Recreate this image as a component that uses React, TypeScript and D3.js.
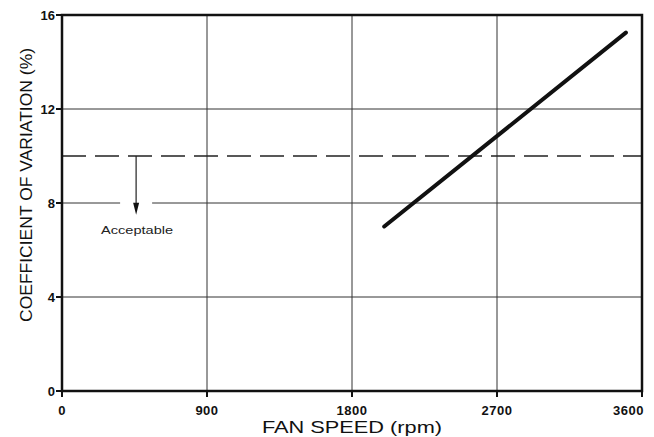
import React from "react";
import * as d3 from "d3";

const xTicks = [0, 900, 1800, 2700, 3600];
const yTicks = [0, 4, 8, 12, 16];
const lineSpeed = [2000, 3500];
const lineCov = [7, 15.25];
const limitCov = 10;
const arrowSpeed = 460;
const arrowEndCov = 7.5;
const arrowLabel = "Acceptable";

export default function App() {
  const W = 654, H = 437;
  const m = { l: 62, r: 12, t: 15, b: 46 };
  const x = d3.scaleLinear().domain([0, 3600]).range([m.l, W - m.r]);
  const y = d3.scaleLinear().domain([0, 16]).range([H - m.b, m.t]);
  const line = d3.line<[number, number]>().x(d => x(d[0])).y(d => y(d[1]));
  const pts: [number, number][] = lineSpeed.map((s, i) => [s, lineCov[i]]);
  const font = "'Liberation Sans', Arial, sans-serif";
  const ax = x(arrowSpeed);
  const ay0 = y(limitCov);
  const ay1 = y(arrowEndCov);
  return (
    <svg width={W} height={H} style={{ position: "absolute", left: 0, top: 0, background: "#fff" }}>
      <rect x={0} y={0} width={W} height={H} fill="#fff" />
      {/* grid */}
      {xTicks.slice(1, -1).map(t => (
        <line key={"gx" + t} x1={x(t)} x2={x(t)} y1={y(0)} y2={y(16)} stroke="#333" strokeWidth={1} />
      ))}
      {yTicks.slice(1, -1).map(t => (
        <line key={"gy" + t} x1={x(0)} x2={x(3600)} y1={y(t)} y2={y(t)} stroke="#333" strokeWidth={1} />
      ))}
      {/* dashed limit */}
      <line x1={x(0)} x2={x(3600)} y1={y(limitCov)} y2={y(limitCov)} stroke="#222" strokeWidth={1.5} strokeDasharray="24 9" />
      {/* gap for arrow */}
      <rect x={ax - 16} y={y(8) - 3} width={32} height={6} fill="#fff" />
      {/* arrow */}
      <line x1={ax} x2={ax} y1={ay0} y2={ay1 - 8} stroke="#222" strokeWidth={1.2} />
      <path d={`M${ax - 3},${ay1 - 12} L${ax + 3},${ay1 - 12} L${ax},${ay1} Z`} fill="#111" />
      <text x={ax + 1} y={ay1 + 19} fontFamily={font} fontSize={11.5} textAnchor="middle" fill="#222" textLength={72} lengthAdjust="spacingAndGlyphs">{arrowLabel}</text>
      {/* frame */}
      <rect x={x(0)} y={y(16)} width={x(3600) - x(0)} height={y(0) - y(16)} fill="none" stroke="#111" strokeWidth={2.5} />
      {/* ticks */}
      {yTicks.map(t => (
        <g key={"yt" + t}>
          <line x1={x(0) - 6} x2={x(0)} y1={y(t)} y2={y(t)} stroke="#111" strokeWidth={2} />
          <text x={x(0) - 7} y={y(t)} dy="0.35em" textAnchor="end" fontFamily={font} fontSize={13} fontWeight="bold" fill="#111">{t}</text>
        </g>
      ))}
      {xTicks.map((t, i) => (
        <g key={"xt" + t}>
          <line x1={x(t)} x2={x(t)} y1={y(0)} y2={y(0) + 6} stroke="#111" strokeWidth={2} />
          <text x={i === xTicks.length - 1 ? x(t) + 2 : x(t)} y={y(0) + 24} textAnchor={i === xTicks.length - 1 ? "end" : "middle"} fontFamily={font} fontSize={13} fontWeight="bold" letterSpacing={0.5} fill="#111">{t}</text>
        </g>
      ))}
      {/* data line */}
      <path d={line(pts) || ""} fill="none" stroke="#111" strokeWidth={4} strokeLinecap="round" />
      {/* axis titles */}
      <text x={352} y={433} textAnchor="middle" fontFamily={font} fontSize={17} fill="#111" textLength={180} lengthAdjust="spacingAndGlyphs">FAN SPEED (rpm)</text>
      <text transform={`translate(32,185) rotate(-90)`} textAnchor="middle" fontFamily={font} fontSize={16} fill="#111" textLength={274} lengthAdjust="spacingAndGlyphs">COEFFICIENT OF VARIATION (%)</text>
    </svg>
  );
}
